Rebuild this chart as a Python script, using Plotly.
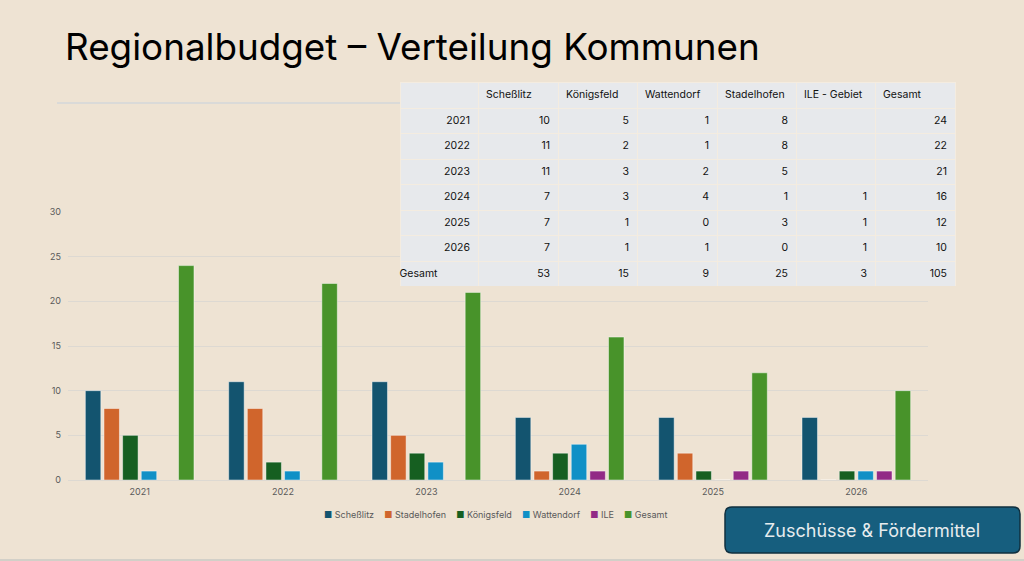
import plotly.graph_objects as go

# data
years = ["2021", "2022", "2023", "2024", "2025", "2026"]
schesslitz = [10, 11, 11, 7, 7, 7]
stadelhofen = [8, 8, 5, 1, 3, 0]
koenigsfeld = [5, 2, 3, 3, 1, 1]
wattendorf = [1, 1, 2, 4, 0, 1]
ile = [None, None, None, 1, 1, 1]
gesamt = [24, 22, 21, 16, 12, 10]

series_names = ["Scheßlitz", "Stadelhofen", "Königsfeld", "Wattendorf", "ILE", "Gesamt"]
series_vals = [schesslitz, stadelhofen, koenigsfeld, wattendorf, ile, gesamt]
colors = ["#13546F", "#D0652C", "#165F21", "#1090C6", "#922A86", "#48932A"]

# table (column order as on the slide)
table_header = ["", "Scheßlitz", "Königsfeld", "Wattendorf", "Stadelhofen", "ILE - Gebiet", "Gesamt"]
table_rows = years + ["Gesamt"]
table_cols = [schesslitz, koenigsfeld, wattendorf, stadelhofen, ile, gesamt]

W, H = 1024, 561
BG = "#EEE3D3"
FONT = "Inter"

def px_x(v):
    return v / W

def px_y(v):
    return 1 - v / H

fig = go.Figure()

for name, vals, col in zip(series_names, series_vals, colors):
    fig.add_trace(go.Bar(
        x=years, y=vals, name=name, marker_color=col,
        marker_line=dict(color="rgba(255,255,255,0.45)", width=1),
        showlegend=False,
    ))

# table values with totals row; the last row label sits left, so pad it
first_col = table_rows[:-1] + [table_rows[-1] + "\u00a0" * 11]
cells = [first_col]
for vals in table_cols:
    tot = sum(v for v in vals if v is not None)
    cells.append(["" if v is None else str(v) for v in vals] + [str(tot)])

fig.add_trace(go.Table(
    domain=dict(x=[px_x(400), px_x(955)], y=[px_y(287), px_y(82)]),
    columnwidth=[78, 80, 79, 80, 79, 79, 80],
    header=dict(values=table_header, align="left", height=26,
                fill_color="#E7E9EC", line=dict(color="#F4ECE0", width=1),
                font=dict(family=FONT, size=10.5, color="#111111")),
    cells=dict(values=cells, align="right", height=25.5,
               fill_color="#E7E9EC", line=dict(color="#F4ECE0", width=1),
               font=dict(family=FONT, size=10.5, color="#111111")),
))

# compact legend under the plot
legend_txt = "&nbsp;&nbsp;&nbsp;&nbsp;".join(
    f'<span style="color:{c}">■</span>&nbsp;{n}' for n, c in zip(series_names, colors))

fig.update_layout(
    width=W, height=H, autosize=False,
    margin=dict(l=0, r=0, t=0, b=0, pad=0, autoexpand=False),
    paper_bgcolor=BG, plot_bgcolor=BG,
    font=dict(family=FONT, color="#595959", size=9),
    barmode="group", bargap=0.22, bargroupgap=0.17,
    xaxis=dict(domain=[px_x(68), px_x(928)], showgrid=False, showline=False,
               ticks="", automargin=False, ticklabelstandoff=5,
               tickfont=dict(size=9, color="#595959")),
    yaxis=dict(domain=[px_y(480), px_y(212)], range=[0, 30], dtick=5,
               gridcolor="#DDD9D2", gridwidth=1, zeroline=True,
               zerolinecolor="#DDD9D2", zerolinewidth=1, showline=False,
               automargin=False,
               tickfont=dict(size=9, color="#595959"), ticklabelstandoff=6),
    annotations=[
        dict(text="Regionalbudget – Verteilung Kommunen", x=px_x(63), y=px_y(47),
             xref="paper", yref="paper", xanchor="left", yanchor="middle",
             showarrow=False, font=dict(family=FONT, size=36.8, color="#000000")),
        dict(text=legend_txt, x=px_x(495), y=px_y(514), xref="paper", yref="paper",
             xanchor="center", yanchor="middle", showarrow=False,
             font=dict(family=FONT, size=9, color="#595959")),
        dict(text="Zuschüsse & Fördermittel", x=px_x(872), y=px_y(530),
             xref="paper", yref="paper", xanchor="center", yanchor="middle",
             showarrow=False, font=dict(family=FONT, size=18, color="#E6ECEE")),
    ],
    shapes=[
        dict(type="line", xref="paper", yref="paper", x0=px_x(57), x1=px_x(400),
             y0=px_y(103), y1=px_y(103), line=dict(color="#D3D7DA", width=1.5)),
        dict(type="path", xref="paper", yref="paper",
             path=(f"M {px_x(732)},{px_y(507)} L {px_x(1013)},{px_y(507)} "
                   f"Q {px_x(1020)},{px_y(507)} {px_x(1020)},{px_y(514)} "
                   f"L {px_x(1020)},{px_y(546)} Q {px_x(1020)},{px_y(553)} {px_x(1013)},{px_y(553)} "
                   f"L {px_x(732)},{px_y(553)} Q {px_x(725)},{px_y(553)} {px_x(725)},{px_y(546)} "
                   f"L {px_x(725)},{px_y(514)} Q {px_x(725)},{px_y(507)} {px_x(732)},{px_y(507)} Z"),
             fillcolor="#165E7E", line=dict(color="#10303F", width=1.5)),
        dict(type="line", xref="paper", yref="paper", x0=0, x1=1,
             y0=px_y(560), y1=px_y(560), line=dict(color="#D2D0C8", width=2)),
    ],
)

# page body has a default margin; drop it so the slide fills the window
fig.write_html("out.html", config={"displayModeBar": False},
               post_script="document.body.style.margin='0';")
